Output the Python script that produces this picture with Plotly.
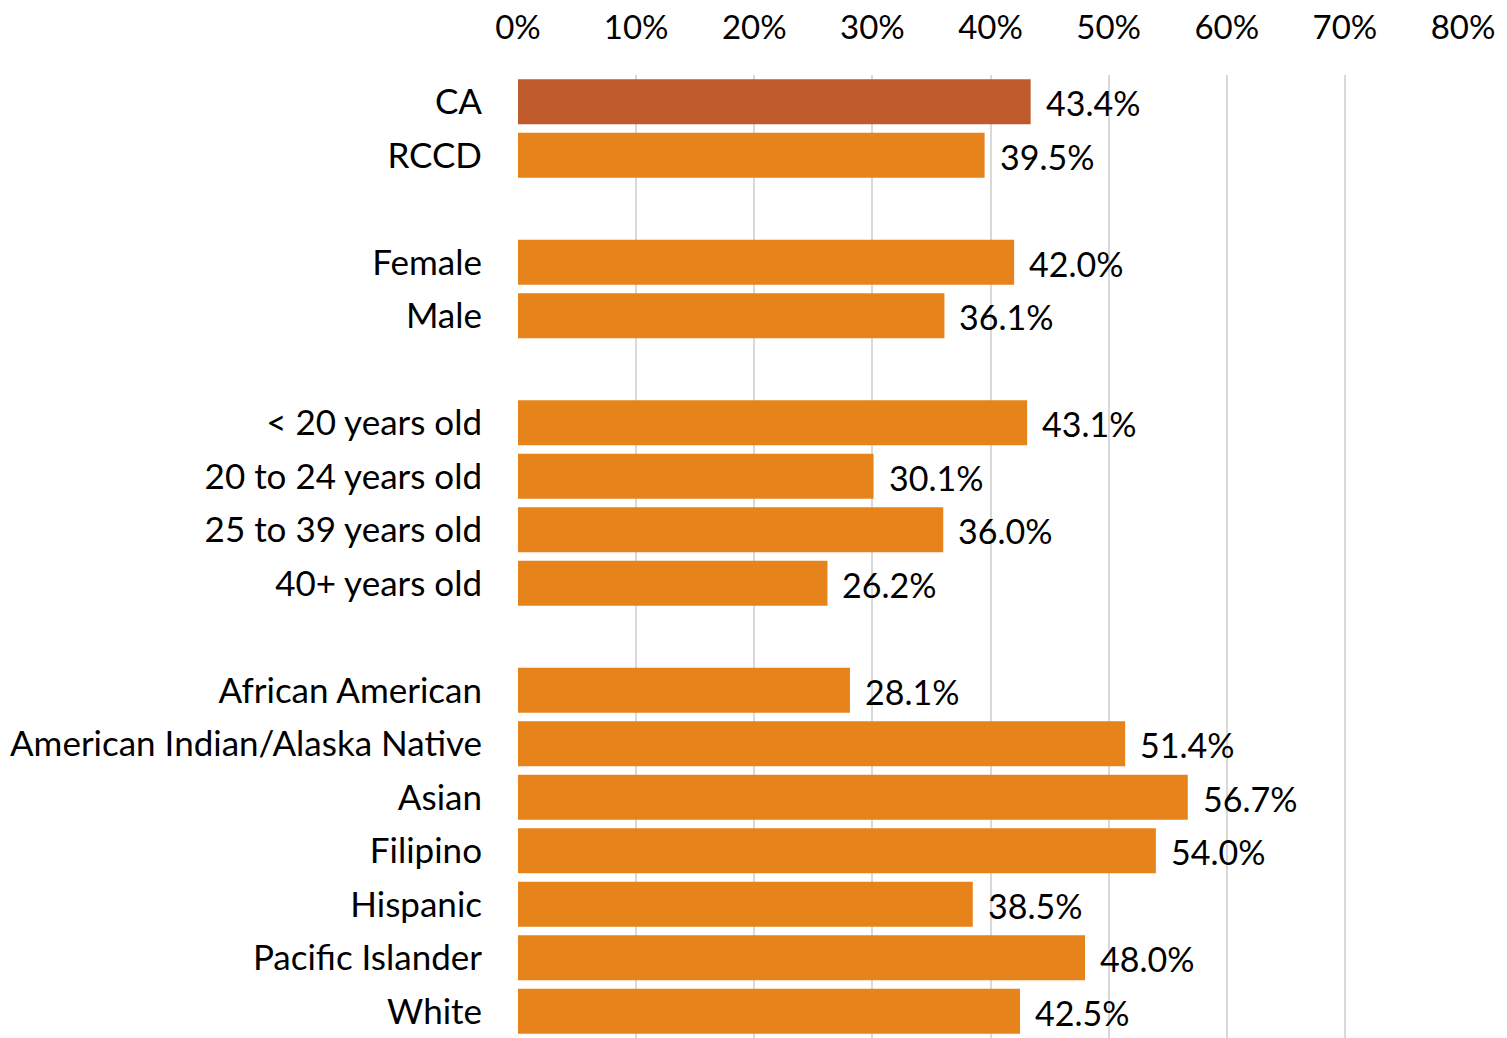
import plotly.graph_objects as go

categories = ["CA", "RCCD", " ", "Female", "Male", "  ", "< 20 years old", "20 to 24 years old",
              "25 to 39 years old", "40+ years old", "   ", "African American",
              "American Indian/Alaska Native", "Asian", "Filipino", "Hispanic",
              "Pacific Islander", "White"]
values = [43.4, 39.5, None, 42.0, 36.1, None, 43.1, 30.1, 36.0, 26.2, None, 28.1,
          51.4, 56.7, 54.0, 38.5, 48.0, 42.5]
tick_vals = [0, 10, 20, 30, 40, 50, 60, 70, 80]
tick_text = ["0%", "10%", "20%", "30%", "40%", "50%", "60%", "70%", "80%"]

colors = ["#BE5A2C" if c == "CA" else "#E6831A" for c in categories]

FONT = "Lato"
fig = go.Figure()
fig.add_trace(go.Bar(
    x=values, y=categories, orientation="h",
    marker=dict(color=colors, line=dict(width=0)),
    hoverinfo="skip",
))
for c, v in zip(categories, values):
    if v is None:
        continue
    fig.add_annotation(x=v, y=c, text=f"{v:.1f}%", showarrow=False,
                       xanchor="left", xshift=13, yshift=-1,
                       font=dict(family=FONT, size=34, color="#000000"))

fig.update_layout(
    width=1507, height=1038,
    margin=dict(l=518, r=44, t=75, b=0, autoexpand=False),
    paper_bgcolor="white", plot_bgcolor="white",
    bargap=0.16, showlegend=False,
    font=dict(family=FONT, size=34, color="#000000"),
)
fig.update_xaxes(
    side="top", range=[0, 80], tickvals=tick_vals, ticktext=tick_text,
    showgrid=True, gridcolor="#D9D9D9", gridwidth=2, zeroline=False,
    showline=False, ticks="", ticklabelstandoff=28, automargin=False,
    tickfont=dict(family=FONT, size=33, color="#000000"),
)
fig.update_yaxes(
    categoryorder="array", categoryarray=categories, autorange="reversed",
    showgrid=False, zeroline=False, showline=False, ticks="",
    ticklabelstandoff=35, automargin=False,
    tickfont=dict(family=FONT, size=35, color="#000000"),
)
fig.write_html("out.html", config={"displayModeBar": False, "staticPlot": True},
               post_script="document.body.style.margin='0';document.body.style.overflow='hidden';")
